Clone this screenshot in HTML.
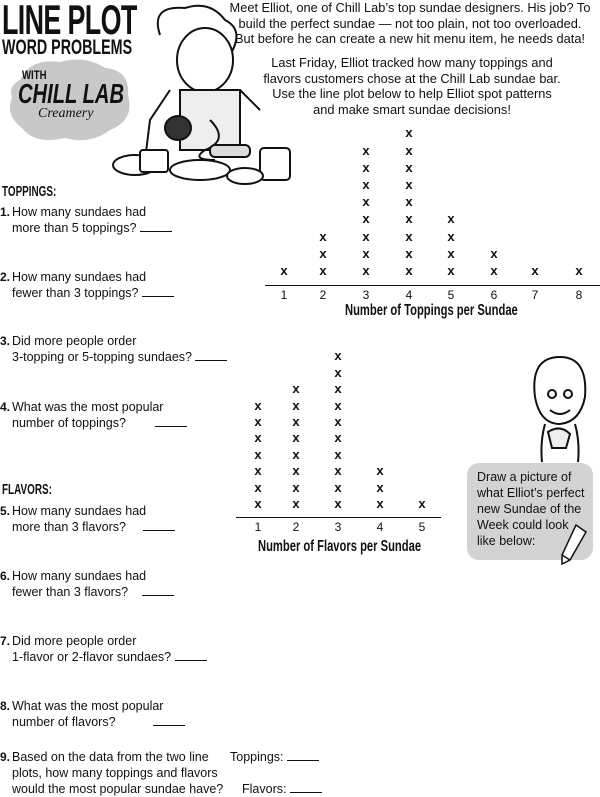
<!DOCTYPE html>
<html><head><meta charset="utf-8"><style>
body{margin:0;width:600px;height:794px;background:#fff;position:relative;overflow:hidden;font-family:"Liberation Sans",sans-serif;color:#111}
.a{position:absolute;white-space:nowrap}
.q{font-size:12.5px;line-height:16px}
.n{position:absolute;left:0;font-family:"Liberation Sans Narrow","Liberation Sans",sans-serif;font-weight:bold;font-size:12px}
.h{font-family:"Liberation Sans Narrow","Liberation Sans",sans-serif;font-weight:bold;transform-origin:left top}
.bl{display:inline-block;border-bottom:1.3px solid #111;width:32px;height:1px;vertical-align:baseline}
.x{position:absolute;font-weight:bold;font-size:13px;font-family:"Liberation Sans",sans-serif;transform:translateX(-50%)}
.t{position:absolute;font-size:12px;transform:translateX(-50%)}
.intro{font-size:12.8px;line-height:15.5px;text-align:center}
</style></head><body>
<div class="a h" style="left:2px;top:-4px;font-size:42px;letter-spacing:-1px;transform:scaleX(.64)">LINE PLOT</div>
<div class="a h" style="left:2px;top:36px;font-size:21px;transform:scaleX(.68)">WORD PROBLEMS</div>
<svg class="a" style="left:0;top:50px" width="140" height="100"><path d="M20 30 Q30 8 60 12 Q85 5 105 18 Q130 20 128 45 Q135 70 110 80 Q90 95 65 88 Q35 95 22 78 Q5 65 12 48 Q8 36 20 30Z" fill="#c8c8c8"/></svg>
<div class="a h" style="left:22px;top:68px;font-size:12px;transform:scaleX(.8)">WITH</div>
<div class="a h" style="left:18px;top:78px;font-size:28px;font-style:italic;transform:scaleX(.72)">CHILL LAB</div>
<div class="a" style="left:38px;top:106px;font-size:14px;font-style:italic;font-family:'Liberation Serif',serif">Creamery</div>
<svg class="a" style="left:110px;top:0" width="190" height="190" fill="none" stroke="#111" stroke-width="2">
<path d="M50 35 Q40 5 75 8 Q100 0 115 20 Q135 30 120 55"/>
<ellipse cx="95" cy="60" rx="28" ry="32" fill="#fff"/>
<path d="M60 90 L40 120 L35 160 M130 90 L150 110"/>
<rect x="70" y="90" width="60" height="60" fill="#eee"/>
<ellipse cx="68" cy="128" rx="13" ry="12" fill="#333"/>
<path d="M100 120 Q120 140 95 150 Q80 160 105 160"/>
<rect x="100" y="145" width="40" height="12" rx="5" fill="#ddd"/>
<ellipse cx="25" cy="165" rx="22" ry="10" fill="#fff"/>
<ellipse cx="90" cy="170" rx="30" ry="10" fill="#fff"/>
<rect x="150" y="148" width="30" height="32" rx="4" fill="#fff"/>
<rect x="30" y="150" width="28" height="22" rx="3" fill="#fff"/>
<ellipse cx="135" cy="176" rx="18" ry="8" fill="#fff"/>
</svg>
<div class="a intro" style="left:225px;top:0;width:370px">Meet Elliot, one of Chill Lab’s top sundae designers. His job? To<br>build the perfect sundae — not too plain, not too overloaded.<br>But before he can create a new hit menu item, he needs data!</div>
<div class="a intro" style="left:262px;top:55px;width:300px">Last Friday, Elliot tracked how many toppings and<br>flavors customers chose at the Chill Lab sundae bar.<br>Use the line plot below to help Elliot spot patterns<br>and make smart sundae decisions!</div>

<div class="a h" style="left:2px;top:183px;font-size:15px;transform:scaleX(.66)">TOPPINGS:</div>
<div class="a q" style="left:0;top:204px"><span class="n">1.</span><div style="padding-left:12px">How many sundaes had<br>more than 5 toppings? <span class="bl"></span></div></div>
<div class="a q" style="left:0;top:269px"><span class="n">2.</span><div style="padding-left:12px">How many sundaes had<br>fewer than 3 toppings? <span class="bl"></span></div></div>
<div class="a q" style="left:0;top:333px"><span class="n">3.</span><div style="padding-left:12px">Did more people order<br>3-topping or 5-topping sundaes? <span class="bl"></span></div></div>
<div class="a q" style="left:0;top:399px"><span class="n">4.</span><div style="padding-left:12px">What was the most popular<br>number of toppings? <span style="display:inline-block;width:26px"></span><span class="bl"></span></div></div>
<div class="a h" style="left:2px;top:481px;font-size:15px;transform:scaleX(.66)">FLAVORS:</div>
<div class="a q" style="left:0;top:503px"><span class="n">5.</span><div style="padding-left:12px">How many sundaes had<br>more than 3 flavors? <span style="display:inline-block;width:14px"></span><span class="bl"></span></div></div>
<div class="a q" style="left:0;top:568px"><span class="n">6.</span><div style="padding-left:12px">How many sundaes had<br>fewer than 3 flavors? <span style="display:inline-block;width:10px"></span><span class="bl"></span></div></div>
<div class="a q" style="left:0;top:633px"><span class="n">7.</span><div style="padding-left:12px">Did more people order<br>1-flavor or 2-flavor sundaes? <span class="bl"></span></div></div>
<div class="a q" style="left:0;top:698px"><span class="n">8.</span><div style="padding-left:12px">What was the most popular<br>number of flavors? <span style="display:inline-block;width:34px"></span><span class="bl"></span></div></div>
<div class="a q" style="left:0;top:749px"><span class="n">9.</span><div style="padding-left:12px">Based on the data from the two line<br>plots, how many toppings and flavors<br>would the most popular sundae have?</div></div>
<div class="a q" style="left:230px;top:749px">Toppings: <span class="bl"></span></div>
<div class="a q" style="left:242px;top:781px">Flavors: <span class="bl"></span></div>

<div id="p1"></div>
<div class="a" style="left:265px;top:285px;width:335px;border-top:1.3px solid #111"></div>
<div class="a h" style="left:345px;top:302px;font-size:16px;transform:scaleX(.7)">Number of Toppings per Sundae</div>
<div class="a" style="left:236px;top:517px;width:205px;border-top:1.3px solid #111"></div>
<div class="a h" style="left:258px;top:538px;font-size:16px;transform:scaleX(.7)">Number of Flavors per Sundae</div>

<svg class="a" style="left:520px;top:352px" width="75" height="110" fill="none" stroke="#111" stroke-width="2">
<path d="M15 45 Q10 5 40 5 Q68 5 65 45 Q60 70 40 72 Q20 72 15 45Z" fill="#fff"/>
<circle cx="32" cy="42" r="4"/><circle cx="48" cy="42" r="4"/>
<path d="M30 58 Q40 66 50 58"/>
<path d="M25 72 Q20 90 22 110 M55 72 Q60 90 58 110"/>
<path d="M28 80 Q40 72 50 82 L46 96 L32 96Z" fill="#eee"/>
</svg>
<div class="a" style="left:467px;top:463px;width:126px;height:97px;background:#d3d3d3;border-radius:12px"></div>
<div class="a" style="left:477px;top:469px;font-size:12.5px;line-height:16px">Draw a picture of<br>what Elliot’s perfect<br>new Sundae of the<br>Week could look<br>like below:</div>
<svg class="a" style="left:558px;top:520px" width="32" height="48" fill="#fff" stroke="#111" stroke-width="1.5"><path d="M18 5 L28 12 L12 40 L4 44 L4 35Z"/><path d="M4 35 L12 40"/></svg>

<script>
function plot(xs,counts,base,step,ty,labels){
 let h='';
 xs.forEach((x,i)=>{for(let k=0;k<counts[i];k++)h+=`<div class="x" style="left:${x}px;top:${base-k*step}px">x</div>`;
 h+=`<div class="t" style="left:${x}px;top:${ty}px">${labels[i]}</div>`;});
 document.getElementById('p1').insertAdjacentHTML('beforeend',h);
}
plot([284,323,366,409,451,494,535,579],[1,3,8,9,4,2,1,1],263,17.2,288,[1,2,3,4,5,6,7,8]);
plot([258,296,338,380,422],[7,8,10,3,1],496,16.4,520,[1,2,3,4,5]);
</script>
</body></html>
